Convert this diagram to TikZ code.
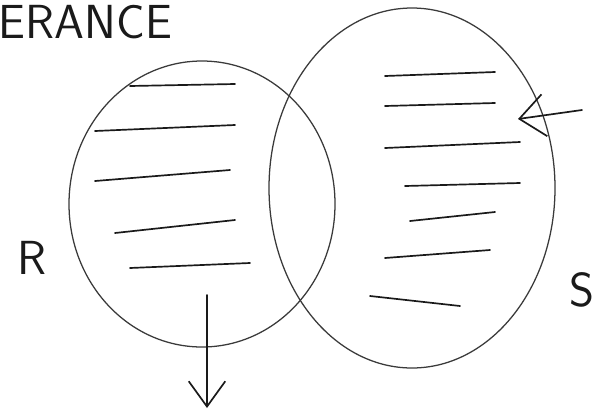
\documentclass[tikz,border=0pt]{standalone}
\usepackage{tikz}
\usetikzlibrary{arrows.meta, positioning, calc}
\definecolor{inkdark}{HTML}{1A1A1A}
\definecolor{inkpen}{HTML}{3A3A3A}

\begin{document}
\begin{tikzpicture}[x=0.025cm, y=-0.025cm, line cap=round,
    hatch/.style={inkdark, line width=1.2pt},
    rim/.style={inkpen, line width=0.9pt},
    lettering/.style={inkdark, font=\sffamily\fontsize{34}{40}\selectfont}]
  \useasboundingbox[fill=white] (0,0) rectangle (610,416);
  % the two sets
  \draw[rim] (202,204) ellipse [x radius=133, y radius=143];
  \draw[rim] (412,188) ellipse [x radius=143, y radius=180];
  % hatching, left part
  \foreach \xa/\ya/\xb/\yb in {130/86/235/84, 95/131/235/125, 95/181/230/170,
                               115/233/235/220, 130/268/250/263}{%
    \draw[hatch] (\xa,\ya) -- (\xb,\yb);}
  % hatching, right part
  \foreach \xa/\ya/\xb/\yb in {385/76/495/72, 385/106/495/103, 385/148/520/142,
                               405/186/520/183, 410/221/495/212,
                               385/258/490/250, 370/296/460/306}{%
    \draw[hatch] (\xa,\ya) -- (\xb,\yb);}
  % labels
  \node[lettering, anchor=west] (title) at (-6,22) {ERANCE};
  \node[lettering] (setR) at (32,258) {R};
  \node[lettering] (setS) at (582,290) {S};
  % pointers
  \coordinate (tipS) at (518,119);
  \coordinate (tailS) at (582,110);
  \coordinate (tailR) at (207,295);
  \coordinate (tipR) at (207,408);
  \draw[hatch, -{Straight Barb[length=18pt, width=30pt]}] (tailS) -- (tipS);
  \draw[hatch, -{Straight Barb[length=18pt, width=26pt]}] (tailR) -- (tipR);
\end{tikzpicture}
\end{document}
